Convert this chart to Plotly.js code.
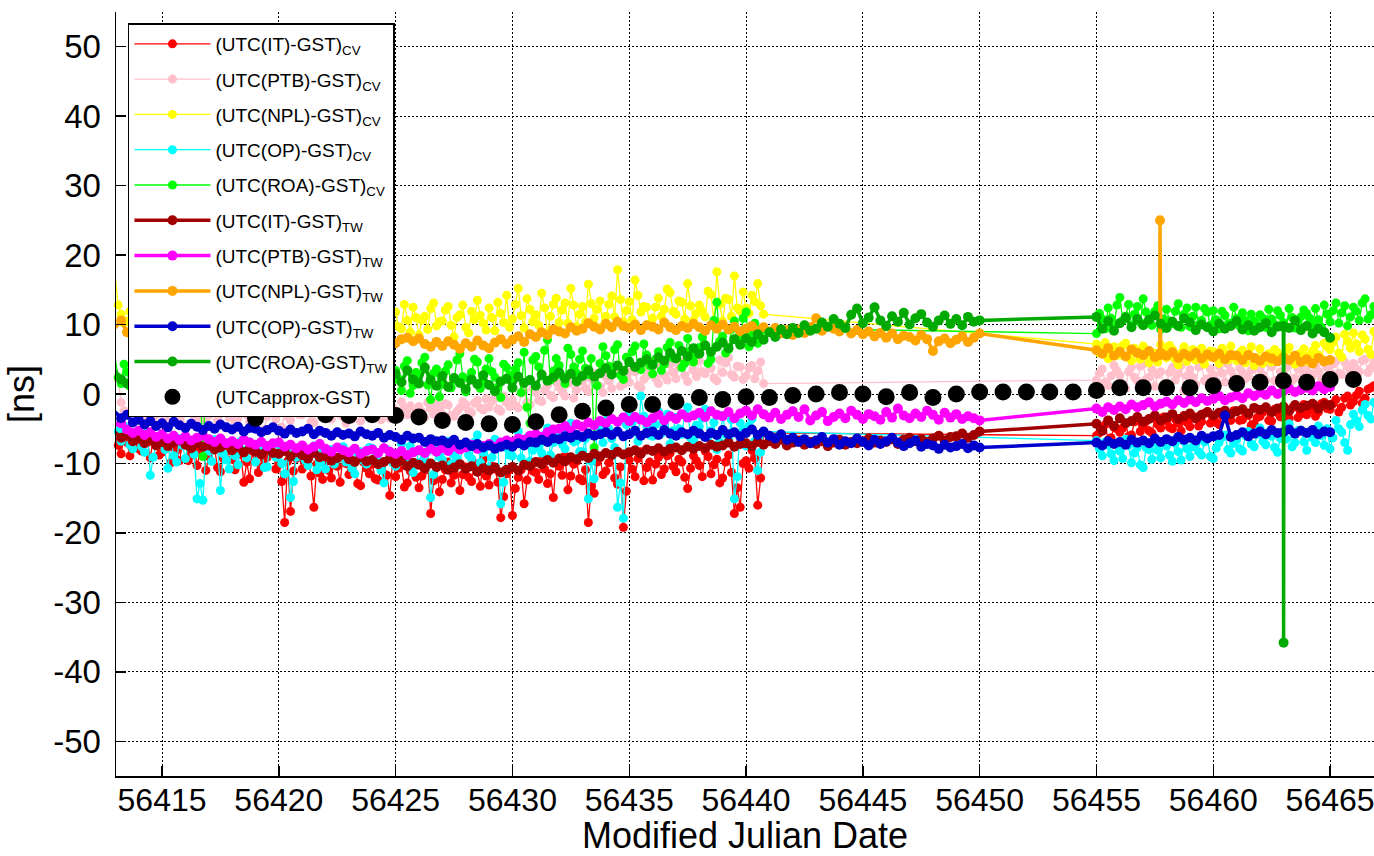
<!DOCTYPE html>
<html><head><meta charset="utf-8">
<script src="https://cdn.plot.ly/plotly-3.0.1.min.js"></script>
<style>html,body{margin:0;padding:0;background:#fff;overflow:hidden}#chart{width:1374px;height:856px}</style>
</head><body><div id="chart"></div><script>
// ---- sampling (MJD) ----
const STEP = 0.25;
const cvSeg1Start = 56413.0;   // "a" samples to 56440.75
const cvSeg1bStart = 56413.125; // "b" samples to 56440.625
const cvSeg2Start = 56455.0;   // "a" samples to 56467.0
const cvSeg2bStart = 56455.125; // "b" samples to 56466.875
const twSeg1Start = 56413.0;   // to 56450.0
const twSeg2Start = 56455.0;   // to 56465.0
const approxStart = 56413;     // daily

// ---- CV series ----
const cvIT1 = [
-6.2,-8.6,-7.0,-5.8, -7.9,-6.5,-9.2,-7.3, -8.4,-6.9,-7.7,-9.6, -7.1,-8.8,-10.3,-7.5,
-9.0,-7.8,-11.2,-8.3, -9.4,-8.1,-12.7,-12.2, -8.6,-10.5,-9.1,-7.9, -10.2,-18.5,-16.9,-9.3,
-10.8,-9.0,-16.3,-11.4, -9.7,-12.1,-10.4,-8.8, -11.6,-9.5,-13.2,-10.7, -10.1,-12.4,-9.8,-14.6,
-11.9,-10.3,-12.8,-9.9, -13.5,-11.0,-17.2,-10.6, -12.3,-9.8,-11.7,-13.9, -10.5,-12.6,-11.2,-9.4,
-13.1,-10.8,-17.8,-11.5, -17.5,-12.0,-15.8,-10.2, -11.3,-9.6,-12.9,-14.9, -10.4,-8.9,-11.8,-9.7,
-12.5,-18.5,-14.3,-9.2, -11.1,-8.7,-13.0,-19.2, -9.5,-11.9,-8.3,-10.6, -12.4,-9.1,-10.8,-8.5,
-11.2,-9.8,-13.6,-8.9, -10.3,-8.2,-11.5,-9.4, -12.1,-8.8,-17.2,-16.3, -9.6,-8.1,-16.0,-5.6];
const cvIT1b = [
-7.4,-6.1,-8.9,-6.7, -8.2,-7.0,-6.3,-8.8, -7.5,-9.9,-8.1,-7.2, -9.6,-7.9,-8.4,-11.0,
-8.0,-10.6,-9.3,-7.6, -10.9,-8.7,-9.8,-8.2, -11.3,-9.4,-8.3,-10.8, -12.6,-9.7,-11.1,-8.9,
-9.6,-11.8,-10.1,-12.3, -11.0,-9.3,-12.7,-10.0, -10.4,-12.9,-9.8,-11.5, -12.2,-10.6,-11.7,-9.5,
-10.7,-13.4,-11.1,-12.0, -11.8,-9.9,-12.5,-14.1, -10.9,-12.8,-10.2,-11.6, -12.0,-10.0,-13.3,-11.8,
-10.4,-12.7,-14.8,-10.9, -13.6,-10.9,-12.4,-11.1, -12.3,-10.8,-11.5,-9.9, -11.7,-13.8,-10.1,-12.2,
-10.9,-13.3,-9.8,-11.6, -9.9,-12.1,-10.5,-14.0, -10.8,-9.3,-12.5,-9.8, -10.1,-11.6,-8.9,-10.4,
-9.4,-12.0,-10.7,-9.6, -11.9,-9.0,-10.2,-12.8, -9.8,-11.3,-13.5,-10.0, -10.7,-9.3,-12.1];
const cvIT2 = [
-6.0,-5.2,-6.6,-4.8, -5.5,-4.3,-5.9,-3.8, -4.6,-5.3,-3.5,-4.9, -3.9,-5.0,-4.2,-3.1,
-4.7,-3.3,-4.0,-2.6, -3.6,-4.4,-2.9,-3.8, -2.5,-3.7,-3.1,-4.3, -3.2,-2.1,-3.9,-2.7,
-2.4,-3.5,-1.8,-2.9, -3.0,-1.6,-2.6,-1.2, -2.2,-0.8,-1.9,-0.3, -1.1,0.4,-0.6,0.9, 0.6];
const cvIT2b = [
-5.6,-4.4,-6.3,-5.0, -4.9,-6.1,-4.0,-5.4, -3.9,-5.6,-4.4,-3.3, -4.8,-3.6,-5.3,-4.1,
-3.5,-4.6,-2.8,-4.2, -4.1,-3.1,-3.7,-2.4, -3.8,-2.7,-4.5,-3.4, -2.6,-3.8,-2.2,-3.3,
-3.1,-2.0,-3.4,-1.5, -2.3,-3.2,-1.4,-2.1, -1.4,-2.6,-0.6,-1.6, -0.2,-1.3,0.7,1.2];

const cvPTB1 = [
3.8,-1.2,-2.8,-3.4, -2.1,-3.9,-1.6,-3.0, -2.6,-4.2,-1.9,-3.3, -2.4,-1.5,-3.7,-2.9,
-3.1,-2.0,-4.4,-2.5, -1.8,-3.5,-2.7,-4.0, -2.3,-6.9,-3.2,-2.0, -7.5,-2.6,-3.8,-1.7,
-3.0,-2.2,-4.1,-2.8, -1.9,-3.6,-2.5,-3.3, -2.7,-1.4,-3.9,-2.2, -3.2,-2.0,-1.6,-3.5,
-2.4,-1.1,-3.0,-2.6, -1.8,-3.4,-2.1,-1.3, -2.9,-1.6,-3.2,-2.0, -1.5,-2.7,-0.9,-2.3,
-1.9,-0.6,-2.5,-1.2, -0.8,-2.0,0.4,-1.5, 0.2,-1.1,1.3,-0.5, 1.0,-0.3,2.4,0.6,
1.8,0.3,2.9,1.1, 2.5,0.8,3.6,1.4, 1.7,3.2,0.9,2.6, 3.8,1.5,2.7,4.3,
2.2,4.6,1.8,3.4, 4.8,2.9,3.7,1.9, 3.1,5.2,2.4,3.9, 2.6,4.1,3.3,1.5];
const cvPTB1b = [
2.1,-2.4,-3.1,-1.9, -3.3,-2.5,-4.0,-2.2, -3.6,-1.7,-2.9,-4.5, -2.0,-3.2,-2.6,-3.9,
-2.7,-3.8,-1.9,-3.4, -4.2,-2.3,-3.0,-2.1, -3.7,-5.1,-2.4,-3.6, -4.8,-3.3,-2.2,-3.0,
-2.5,-3.9,-1.8,-3.4, -2.9,-1.6,-3.0,-4.2, -3.6,-2.4,-2.9,-1.6, -2.2,-3.7,-2.8,-1.9,
-3.3,-2.0,-1.7,-3.6, -2.6,-1.2,-2.9,-2.2, -1.4,-3.1,-2.5,-1.1, -2.4,-1.3,-2.0,-0.7,
-1.0,-2.2,-0.3,-1.8, -1.7,0.1,-1.2,0.8, -0.9,0.6,-0.2,1.7, 0.3,1.5,-0.6,1.9,
0.8,2.2,1.4,0.2, 1.9,3.0,1.1,2.7, 3.4,1.2,2.1,3.5, 2.3,4.0,2.0,3.1,
3.9,2.7,5.0,2.5, 3.2,4.4,2.3,4.9, 4.5,2.8,4.0,2.1, 3.7,2.2,4.6];
const cvPTB2 = [
2.0,3.6,1.2,4.1, 2.7,0.8,3.9,1.9, 4.3,2.4,1.1,3.2, 1.6,3.8,2.9,0.5,
3.5,1.4,4.2,2.2, 2.8,4.0,1.7,3.3, 1.3,3.1,2.5,4.4, 3.6,2.0,3.9,1.8,
2.9,4.2,2.3,3.5, 4.0,2.6,3.3,4.5, 3.1,4.7,2.8,3.9, 4.4,3.2,5.0,3.7, 4.1];
const cvPTB2b = [
3.0,1.7,2.6,3.4, 1.5,3.2,2.4,4.0, 2.1,3.5,2.8,1.4, 3.1,2.0,4.1,2.6,
2.4,3.9,1.9,3.6, 1.9,3.0,4.3,2.5, 3.7,2.2,3.4,1.6, 2.7,4.5,1.9,3.2,
3.8,1.9,3.6,2.7, 3.0,4.1,2.2,3.8, 4.3,3.0,4.6,3.4, 3.6,4.8,3.1,4.5];

const cvNPL1 = [
16.8,11.5,10.5,12.0, 11.0,10.0,12.5,9.5, 10.8,12.0,9.8,11.2, 10.5,11.8,9.6,10.2,
11.5,10.0,12.2,9.8, 10.6,11.9,10.1,9.4, 11.8,10.3,9.9,12.4, 10.2,9.5,11.6,10.8,
9.7,12.1,10.4,9.2, 11.3,10.1,9.6,12.6, 10.9,9.3,11.7,10.2, 9.8,12.3,10.6,9.5,
11.8,9.4,10.6,12.5, 8.5,11.2,12.3,9.8, 10.5,12.6,8.2,11.4, 9.6,11.9,13.5,10.2,
12.4,9.1,11.6,14.2, 10.8,15.2,9.5,12.2, 11.4,14.5,8.8,12.9, 10.3,13.1,15.2,9.7,
12.6,15.8,10.9,13.4, 11.2,14.1,17.9,10.4, 13.3,16.4,11.8,12.5, 10.9,13.8,12.2,14.6,
11.5,13.2,15.9,10.6, 12.8,11.1,14.3,17.6, 10.5,13.6,17.0,11.9, 12.4,14.2,15.9,11.5];
const cvNPL1b = [
12.8,10.2,11.9,10.7, 9.6,11.7,10.4,12.1, 11.5,9.7,10.9,12.4, 9.9,12.3,11.0,9.3,
10.7,12.8,9.5,11.3, 12.0,9.2,11.4,10.5, 9.6,11.0,12.7,10.3, 11.7,10.4,9.0,12.2,
10.6,9.8,11.9,10.9, 9.4,11.6,10.7,9.9, 12.1,10.5,9.7,11.4, 10.2,11.1,12.4,10.0,
9.7,12.9,8.9,11.0, 10.6,9.3,13.1,10.4, 12.1,9.9,11.0,12.8, 8.8,10.7,11.3,9.2,
11.0,13.2,10.3,9.6, 12.9,11.3,13.7,10.4, 9.9,12.4,11.2,13.8, 12.1,10.2,12.8,11.5,
10.4,13.0,12.2,9.8, 12.9,11.1,13.6,12.0, 10.7,14.2,12.6,10.1, 12.5,11.2,15.1,11.9,
13.4,10.8,12.7,11.6, 11.9,14.8,10.3,12.9, 13.8,11.2,12.4,14.7, 11.6,13.3,12.7];
const cvNPL2 = [
7.2,6.5,5.1,6.8, 5.6,7.3,4.8,6.2, 6.9,4.5,5.9,7.1, 5.2,6.4,4.2,6.8,
5.7,4.9,6.6,5.3, 6.1,4.4,5.8,6.9, 4.8,6.3,5.5,4.1, 6.5,5.2,4.6,6.0,
5.4,6.7,4.3,5.9, 4.7,6.2,5.6,7.3, 6.4,8.2,5.3,7.6, 8.8,6.1,7.9,5.7, 8.4];
const cvNPL2b = [
5.9,7.4,5.5,6.1, 7.0,5.3,6.6,5.0, 6.3,5.7,4.6,6.5, 7.0,5.0,5.9,4.7,
6.4,5.5,4.3,6.2, 5.1,6.6,4.9,5.6, 5.9,4.5,6.8,5.2, 4.4,5.8,6.4,5.0,
6.2,4.8,5.7,6.5, 5.5,7.0,5.1,6.8, 7.4,5.9,8.6,6.6, 7.2,8.5,6.4,9.0];

const cvOP1 = [
-3.5,-6.8,-5.2,-7.9, -6.1,-8.4,-11.7,-7.2, -5.8,-10.7,-8.9,-6.4, -9.3,-7.1,-15.1,-15.3,
-8.2,-6.6,-13.9,-9.5, -7.4,-10.2,-8.1,-6.9, -9.8,-7.7,-10.5,-8.6, -7.3,-11.5,-14.9,-9.1,
-8.7,-10.3,-7.5,-9.9, -10.8,-8.0,-9.4,-7.6, -9.2,-11.5,-8.3,-10.1, -7.8,-9.6,-12.8,-8.5,
-10.4,-7.2,-9.0,-11.3, -8.1,-10.7,-14.9,-7.6, -9.5,-6.8,-8.7,-10.2, -7.1,-9.3,-5.9,-8.4,
-10.6,-6.5,-15.8,-7.8, -8.9,-5.4,-7.3,-9.7, -6.2,-8.5,-4.9,-7.0, -5.6,-7.9,-4.2,-6.7,
-8.3,-15.1,-12.2,-5.1, -3.8,-6.4,-16.3,-17.9, -2.9,-5.5,-0.3,-4.6, -6.1,-2.5,-4.0,-7.2,
-3.4,-5.8,-1.9,-6.6, -4.7,-2.2,-5.3,-8.0, -3.1,-6.5,-15.1,-4.2, -7.5,-3.6,-11.0,-5.4];
const cvOP1b = [
-5.4,-4.6,-7.3,-6.5, -7.6,-5.5,-9.1,-6.7, -8.0,-6.9,-9.8,-7.4, -6.8,-8.7,-12.9,-8.0,
-9.7,-7.3,-8.6,-10.8, -8.9,-6.8,-9.2,-7.6, -8.3,-10.6,-7.4,-9.1, -10.0,-8.4,-12.6,-7.9,
-9.5,-7.9,-10.9,-8.3, -8.6,-10.1,-7.8,-9.8, -10.7,-8.5,-9.6,-7.7, -9.1,-11.0,-8.0,-9.9,
-8.6,-9.8,-7.5,-10.0, -9.7,-8.2,-11.6,-9.0, -7.9,-10.1,-9.3,-7.4, -8.8,-6.9,-9.9,-7.6,
-9.1,-7.4,-12.7,-8.8, -7.0,-9.2,-6.3,-8.1, -7.6,-5.9,-8.8,-6.0, -7.2,-5.1,-6.9,-8.3,
-6.4,-9.7,-4.6,-7.0, -5.0,-7.7,-12.8,-4.4, -4.1,-6.8,-3.2,-5.9, -4.4,-5.7,-2.9,-5.3,
-5.0,-3.0,-6.3,-4.5, -3.5,-6.2,-4.1,-6.9, -5.8,-3.7,-11.9,-5.1, -4.6,-6.8,-8.4];
const cvOP2 = [
-6.7,-8.9,-7.4,-9.6, -8.2,-6.5,-9.9,-7.7, -10.6,-8.0,-6.9,-9.2, -7.5,-9.7,-8.3,-6.8,
-9.0,-7.2,-8.8,-6.4, -9.3,-7.0,-5.9,-8.5, -6.6,-8.2,-5.4,-7.6, -4.9,-7.3,-6.1,-8.4,
-5.7,-4.3,-7.0,-5.2, -8.1,-6.3,-4.6,-7.4, -7.9,-3.8,-5.5,-8.1, -2.9,-4.7,-1.5,-3.6, -0.7];
const cvOP2b = [
-7.9,-6.9,-8.6,-7.1, -9.3,-7.4,-8.5,-10.2, -7.7,-9.4,-8.1,-7.0, -8.8,-7.1,-9.5,-7.9,
-7.6,-8.3,-6.9,-9.0, -7.8,-6.2,-8.0,-7.1, -7.9,-6.0,-7.2,-5.8, -6.8,-5.5,-7.7,-6.4,
-6.5,-7.6,-5.3,-6.9, -5.4,-7.0,-6.0,-5.0, -6.3,-5.0,-7.0,-4.4, -3.8,-2.3,-3.1,-1.2];

const cvROA1 = [
5.0,1.5,3.2,0.8, 2.5,4.1,0.3,3.6, 1.8,4.8,2.2,0.5, 3.3,1.2,4.4,-9.0,
2.6,0.9,3.8,1.7, 4.2,2.1,0.4,3.5, 1.3,3.9,2.7,0.6, 3.1,1.6,4.5,2.3,
0.8,3.4,1.9,4.0, 2.8,0.2,3.6,1.4, 4.3,2.0,0.7,3.2, 1.1,3.7,2.4,5.2,
3.4,0.5,4.8,1.2, 2.7,5.3,-0.8,3.6, 1.4,4.2,2.0,5.8, 0.3,3.1,4.6,1.7,
5.1,2.4,-0.5,3.8, 1.9,4.5,6.0,-4.2, 5.4,2.6,7.8,3.3, 4.1,1.5,5.7,3.0,
6.2,2.8,-7.7,4.4, 5.5,3.2,7.1,2.1, 4.8,6.9,3.5,5.6, 2.9,6.1,4.3,7.4,
5.2,3.8,8.0,4.6, 6.7,9.1,5.0,13.2, 8.3,6.4,10.5,7.2, 11.8,8.6,7.3,9.5];
const cvROA1b = [
2.4,4.3,1.1,2.9, 3.8,0.9,2.7,4.5, 3.0,1.4,3.9,2.6, 0.7,3.5,2.0,1.8,
4.1,2.3,1.0,3.3, 1.6,3.8,2.9,0.9, 2.4,4.4,1.2,3.0, 1.9,0.5,3.4,2.6,
4.2,2.5,0.6,3.7, 1.8,3.2,4.1,0.9, 2.6,1.4,3.9,2.1, 3.5,0.8,4.6,1.9,
2.2,4.0,0.1,3.1, 4.5,1.3,3.0,-0.4, 3.3,0.9,4.9,2.5, 2.2,5.0,0.8,3.6,
3.2,1.0,4.3,2.7, 3.6,0.2,-1.9,4.9, 3.9,6.3,2.0,5.1, 2.6,6.6,3.9,5.0,
3.7,5.1,1.2,6.8, 4.0,6.4,2.7,5.3, 6.1,3.9,7.2,4.1, 5.0,3.4,6.7,5.2,
7.0,4.4,6.2,5.7, 8.2,4.4,10.6,7.6, 5.9,9.3,8.1,10.9, 6.8,10.2,8.9];
const cvROA2 = [
8.7,10.8,12.4,9.6, 13.9,11.2,9.8,12.6, 13.7,10.4,11.9,9.3, 12.2,10.1,13.0,11.5,
9.7,12.5,10.6,11.8, 12.0,9.4,11.3,10.2, 10.9,11.7,9.1,10.5, 11.4,9.6,10.8,12.0,
10.3,12.3,9.5,11.1, 11.6,9.9,10.7,12.8, 10.4,13.1,11.7,9.8, 12.5,10.6,13.7,11.4, 12.9];
const cvROA2b = [
11.6,9.4,10.9,12.8, 10.6,12.9,11.5,10.3, 11.8,9.9,12.7,10.8, 10.5,11.9,9.6,12.4,
11.2,10.0,12.3,9.9, 10.7,11.9,10.1,12.5, 9.8,10.6,11.5,9.4, 10.9,12.2,10.0,11.3,
9.7,11.0,10.4,12.1, 10.9,12.3,9.6,11.5, 12.0,10.2,12.7,11.1, 11.9,13.1,10.8,12.6];

// ---- TW series ----
const twIT1 = [
-5.5,-6.3,-5.9,-6.8, -6.4,-7.1,-6.6,-7.4, -6.9,-7.5,-7.0,-6.7, -7.3,-7.8,-7.1,-7.6,
-7.4,-8.0,-7.7,-7.2, -8.1,-7.6,-8.4,-7.9, -8.3,-8.7,-8.0,-8.5, -8.6,-8.2,-9.0,-8.4,
-8.8,-9.3,-8.5,-9.1, -9.0,-9.6,-9.2,-8.7, -9.4,-9.8,-9.1,-9.7, -9.5,-10.1,-9.8,-9.3,
-10.0,-9.6,-10.4,-9.9, -10.2,-10.7,-10.0,-10.5, -10.3,-10.9,-10.6,-10.1, -10.8,-10.4,-11.2,-10.7,
-11.0,-10.6,-11.3,-10.9, -10.5,-11.0,-10.2,-10.4, -9.8,-10.1,-9.5,-9.9, -9.3,-9.7,-9.1,-9.4,
-8.9,-9.2,-8.6,-9.0, -8.5,-8.8,-8.3,-8.7, -8.4,-8.1,-8.6,-8.0, -8.2,-7.8,-8.3,-7.9,
-7.7,-8.1,-7.6,-7.9, -7.5,-7.8,-7.3,-7.6, -7.4,-7.0,-7.6,-7.2, -7.1,-7.5,-6.9,-7.3,
-6.8,-7.2,-6.6,-7.4, -7.0,-6.7,-7.3,-6.9, -7.2,-6.8,-7.5,-7.0, -6.6,-7.3,-6.9,-7.1,
-6.8,-6.4,-7.0,-6.7, -6.9,-6.5,-7.2,-6.6, -6.3,-6.8,-6.5,-6.9, -6.4,-6.0,-6.7,-6.2,
-6.1,-5.7,-6.3,-5.9, -5.4];
const twIT2 = [
-4.3,-5.3,-3.8,-4.6, -3.5,-4.2,-3.9,-3.3, -4.0,-3.6,-3.1,-3.8, -3.4,-2.9,-3.6,-3.2,
-2.8,-3.5,-3.0,-2.6, -3.1,-2.7,-2.4,-2.9, -2.5,-2.2,-2.8,-2.0, -2.3,-1.9,-2.6,-2.1,
-1.8,-2.4,-1.6,-2.0, -1.7,-1.4,-2.1,-1.5, -1.6];

const twPTB1 = [
-4.5,-4.2,-5.1,-5.6, -5.3,-5.9,-5.5,-6.2, -5.8,-6.4,-6.0,-6.6, -6.1,-6.7,-6.3,-6.0,
-6.5,-6.9,-6.4,-7.1, -6.8,-7.2,-6.6,-7.0, -7.3,-6.9,-7.5,-7.1, -7.0,-7.6,-7.3,-7.8,
-7.4,-8.0,-7.6,-7.2, -7.9,-8.3,-7.7,-8.1, -8.4,-7.9,-8.6,-8.2, -8.0,-8.5,-7.8,-8.3,
-8.6,-8.2,-8.8,-8.4, -8.1,-8.5,-7.9,-8.3, -7.8,-8.2,-7.6,-8.0, -7.7,-7.3,-7.9,-7.5,
-7.2,-7.6,-7.0,-6.7, -6.9,-6.4,-6.6,-6.0, -5.8,-6.2,-5.5,-5.1, -5.0,-4.6,-5.3,-4.4,
-4.7,-4.1,-4.5,-3.9, -4.2,-3.6,-4.0,-3.4, -3.9,-3.3,-3.7,-4.1, -3.5,-3.0,-3.8,-3.2,
-3.6,-2.9,-3.4,-3.1, -2.7,-3.3,-2.5,-3.0, -3.2,-2.6,-3.5,-2.8, -2.4,-3.1,-2.2,-2.9,
-3.4,-2.7,-3.6,-3.0, -2.5,-3.3,-2.2,-3.8, -3.1,-2.6,-3.9,-3.3, -2.8,-3.5,-2.4,-3.0,
-3.6,-2.9,-3.2,-3.7, -2.6,-3.4,-2.1,-3.1, -3.5,-2.8,-3.3,-2.4, -3.0,-3.7,-2.7,-3.4,
-2.9,-3.6,-3.2,-3.5, -3.8];
const twPTB2 = [
-2.1,-2.6,-1.9,-2.3, -1.8,-2.2,-1.5,-1.9, -1.6,-1.2,-1.8,-1.4, -1.1,-1.5,-0.9,-1.3,
-0.8,-1.2,-0.6,-1.0, -0.7,-0.3,-0.9,-0.5, -0.2,-0.6,0.1,-0.3, 0.2,-0.1,0.5,0.0,
0.4,0.8,0.3,0.6, 0.9,0.5,1.1,0.7, 1.0];

const twNPL1 = [
9.5,10.6,8.9,8.2, 8.7,9.2,8.1,8.8, 9.0,8.4,8.9,8.2, 8.6,9.1,8.0,8.5,
8.8,8.2,8.7,7.9, 8.3,8.9,8.1,8.6, 7.8,8.4,7.6,8.2, 8.0,7.5,8.3,7.7,
7.9,8.4,7.3,7.8, 7.5,8.1,7.6,7.2, 7.8,7.4,8.0,7.1, 7.6,7.2,7.9,7.4,
7.3,7.9,8.1,7.6, 8.0,7.2,6.8,7.5, 6.9,7.6,7.1,6.5, 7.3,6.8,7.7,7.0,
6.6,7.4,7.9,7.2, 7.8,8.3,7.5,8.6, 8.2,8.9,8.5,9.3, 9.0,8.7,9.6,9.1,
9.4,10.2,9.7,9.3, 10.1,9.6,10.4,9.8, 9.5,10.0,9.2,9.9, 9.7,9.3,10.3,9.6,
9.2,9.8,9.5,10.1, 9.6,9.1,9.9,9.4, 10.0,9.3,9.7,9.0, 9.4,9.8,9.1,9.6,
9.0,9.5,8.7,9.2, 8.5,9.3,8.8,9.6, 10.9,9.1,9.7,9.4, 9.0,9.6,8.7,9.2,
8.6,9.0,8.3,8.8, 8.1,8.7,7.9,8.4, 8.2,7.7,8.5,7.9, 6.2,7.6,8.0,7.3,
7.8,8.3,7.5,8.1, 8.7];
const twNPL2 = [
6.3,5.8,6.6,5.5, 6.1,5.4,6.4,5.9, 5.6,6.2,5.3,5.9, 5.5,6.0,5.2,5.8,
5.4,5.9,5.1,5.7, 5.3,5.8,5.0,5.6, 5.5,4.9,5.6,5.2, 4.8,5.4,5.1,4.7,
5.3,4.9,5.5,4.6, 5.0,4.4,5.2,4.7, 4.9];
const twNPLSpikeX = [56457.71, 56457.72, 56457.73];
const twNPLSpikeY = [5.6, 25.0, 5.9];

const twOP1 = [
-2.6,-3.5,-3.0,-4.1, -3.7,-4.4,-3.9,-4.6, -4.2,-4.8,-4.0,-4.5, -4.9,-4.3,-4.7,-5.2,
-4.6,-5.0,-4.4,-4.8, -5.1,-4.7,-5.4,-4.9, -5.0,-5.5,-5.2,-4.8, -5.3,-5.7,-5.1,-5.6,
-5.4,-5.0,-5.8,-5.3, -5.6,-6.0,-5.5,-5.9, -5.7,-6.1,-5.4,-5.8, -6.0,-5.6,-6.3,-5.9,
-6.2,-6.6,-6.0,-6.4, -6.3,-6.9,-6.5,-6.8, -6.7,-7.1,-6.6,-7.3, -7.0,-7.5,-7.2,-7.7,
-7.4,-7.9,-7.6,-7.3, -7.6,-7.1,-7.4,-6.9, -7.0,-6.6,-6.9,-6.4, -6.5,-6.1,-6.3,-5.9,
-6.2,-5.7,-6.0,-5.8, -5.5,-5.9,-5.4,-6.1, -5.8,-5.3,-6.0,-5.6, -5.4,-5.9,-5.2,-5.7,
-6.0,-5.5,-5.8,-5.3, -5.7,-6.2,-5.6,-5.9, -5.2,-5.8,-5.5,-6.1, -5.6,-5.1,-5.9,-5.4,
-6.0,-6.4,-5.8,-6.6, -6.3,-6.9,-6.5,-7.1, -6.7,-6.2,-7.0,-6.5, -7.3,-6.8,-7.1,-6.4,
-6.9,-7.4,-6.6,-7.2, -6.8,-6.3,-7.0,-7.5, -7.1,-6.7,-7.6,-7.2, -7.4,-7.9,-7.3,-7.7,
-7.5,-7.2,-7.8,-7.4, -7.7];
const twOP2 = [
-7.0,-7.4,-6.8,-7.2, -6.9,-7.3,-6.6,-7.0, -6.7,-7.1,-6.4,-6.9, -6.5,-6.8,-6.2,-6.6,
-6.3,-6.7,-6.0,-6.4, -6.1,-5.9,-3.1,-6.2, -5.9,-5.5,-6.1,-5.7, -5.4,-5.8,-5.2,-5.6,
-5.5,-5.1,-5.7,-5.3, -5.6,-5.2,-5.8,-5.4, -5.5];

const twROA1 = [
3.4,2.1,1.5,2.8, 1.9,2.6,1.2,2.3, 1.6,2.9,2.0,1.1, 2.5,1.7,2.2,1.4,
2.0,1.3,2.7,1.8, 1.5,2.4,1.9,2.6, 1.2,2.1,1.6,2.8, 2.2,1.4,2.5,1.8,
1.7,2.9,2.1,1.3, 2.4,1.8,2.6,1.5, 2.0,2.7,1.6,2.3, 1.8,2.5,3.2,2.2,
2.9,1.7,3.4,2.1, 1.5,3.8,2.0,1.2, 2.6,1.0,2.3,1.6, 0.7,2.1,1.4,2.7,
1.3,0.4,1.8,2.2, 0.9,2.5,1.6,2.0, 1.2,2.8,1.9,2.4, 3.1,2.2,2.9,1.8,
2.6,3.4,2.5,3.0, 3.7,2.8,4.1,3.3, 4.6,3.9,4.5,5.0, 4.2,5.3,4.8,5.9,
5.1,6.2,5.4,6.6, 5.8,7.0,6.1,6.8, 7.4,6.6,7.9,7.1, 8.0,7.5,8.6,7.8,
8.9,8.2,9.3,8.6, 9.5,8.8,9.9,9.1, 9.4,10.3,9.7,10.8, 10.1,9.5,11.4,12.3,
10.2,11.0,12.5,10.6, 9.8,11.2,10.4,11.7, 10.0,10.9,11.5,10.3, 9.7,10.6,11.3,10.1,
10.8,9.9,11.1,10.4, 10.6];
const twROA2 = [
11.1,9.4,10.5,9.1, 10.2,11.0,9.6,10.8, 9.9,10.7,11.3,10.1, 9.5,10.4,9.8,10.9,
10.3,9.2,10.0,9.6, 9.0,10.1,9.4,9.8, 10.5,9.3,9.9,9.1, 9.6,10.2,8.9,9.7,
9.8,9.5,10.6,9.2, 9.8,8.7,9.4,8.9, 8.1];
const twROASpikeX = [56463.01, 56463.02];
const twROASpikeY = [-35.8, 9.6];

// ---- UTCapprox-GST (daily) ----
const approx = [
0.2,-0.3,-0.8,-1.2,-1.5,-1.9,-3.5,-1.0,-1.0,-3.0,
-3.1,-3.0,-3.1,-3.3,-3.8,-4.1,-4.3,-4.4,-4.0,-3.0,
-2.5,-2.0,-1.5,-1.5,-1.1,-0.5,-0.8,-0.4,-0.5,-0.2,
0.0,0.2,0.0,-0.4,0.2,-0.5,0.0,0.3,0.3,0.3,
0.3,0.3,0.5,0.9,0.9,0.9,0.9,1.2,1.5,1.7,
1.9,1.7,2.1,2.1,2.2];

const xTicks = [56415,56420,56425,56430,56435,56440,56445,56450,56455,56460,56465];
const yTicks = [-50,-40,-30,-20,-10,0,10,20,30,40,50];

// ---- build helpers ----
function build(segs, extraX, extraY) {
  const pts = [];
  segs.forEach(([start, vals]) => vals.forEach((v, i) => pts.push([start + i * STEP, v])));
  if (extraX) extraX.forEach((x, i) => pts.push([x, extraY[i]]));
  pts.sort((a, b) => a[0] - b[0]);
  return {x: pts.map(p => p[0]), y: pts.map(p => p[1])};
}
function cv(a1, b1, a2, b2) {
  return build([[cvSeg1Start,a1],[cvSeg1bStart,b1],[cvSeg2Start,a2],[cvSeg2bStart,b2]]);
}

const defs = [
  {name:'(UTC(IT)-GST)<sub>CV</sub>',  color:'#FF0000', w:1.3, ms:9, d:cv(cvIT1,cvIT1b,cvIT2,cvIT2b)},
  {name:'(UTC(PTB)-GST)<sub>CV</sub>', color:'#FFC0CB', w:1.3, ms:9, d:cv(cvPTB1,cvPTB1b,cvPTB2,cvPTB2b)},
  {name:'(UTC(NPL)-GST)<sub>CV</sub>', color:'#FFFF00', w:1.3, ms:9, d:cv(cvNPL1,cvNPL1b,cvNPL2,cvNPL2b)},
  {name:'(UTC(OP)-GST)<sub>CV</sub>',  color:'#00FFFF', w:1.3, ms:9, d:cv(cvOP1,cvOP1b,cvOP2,cvOP2b)},
  {name:'(UTC(ROA)-GST)<sub>CV</sub>', color:'#00FF00', w:1.3, ms:9, d:cv(cvROA1,cvROA1b,cvROA2,cvROA2b)},
  {name:'(UTC(IT)-GST)<sub>TW</sub>',  color:'#A00000', w:3.5, ms:10, d:build([[twSeg1Start,twIT1],[twSeg2Start,twIT2]])},
  {name:'(UTC(PTB)-GST)<sub>TW</sub>', color:'#FF00FF', w:3.5, ms:10, d:build([[twSeg1Start,twPTB1],[twSeg2Start,twPTB2]])},
  {name:'(UTC(NPL)-GST)<sub>TW</sub>', color:'#FFA500', w:3.5, ms:10, d:build([[twSeg1Start,twNPL1],[twSeg2Start,twNPL2]], twNPLSpikeX, twNPLSpikeY)},
  {name:'(UTC(OP)-GST)<sub>TW</sub>',  color:'#0000CC', w:3.5, ms:10, d:build([[twSeg1Start,twOP1],[twSeg2Start,twOP2]])},
  {name:'(UTC(ROA)-GST)<sub>TW</sub>', color:'#00AA00', w:3.5, ms:10, d:build([[twSeg1Start,twROA1],[twSeg2Start,twROA2]], twROASpikeX, twROASpikeY)}
];

const traces = defs.map((s, k) => ({
  type:'scatter', mode:'lines+markers', name:s.name, x:s.d.x, y:s.d.y,
  line:{color:s.color, width:s.w}, marker:{color:s.color, size:s.ms},
  cliponaxis:false, legendgroup:'g'+k
}));
traces.push({
  type:'scatter', mode:'markers', name:'(UTCapprox-GST)',
  x: approx.map((v, i) => approxStart + i), y: approx,
  marker:{color:'#000', size:17}, cliponaxis:false, legendgroup:'g10'
});

const axisCommon = {
  ticks:'inside', ticklen:10, tickwidth:1.5, tickcolor:'#000',
  showline:true, linecolor:'#000', linewidth:1.5, mirror:false,
  showgrid:true, gridcolor:'#000', gridwidth:1, griddash:'2px,2px',
  zeroline:false, automargin:false, ticklabeloverflow:'allow'
};

const layout = {
  width:1374, height:856,
  margin:{l:116, r:0, t:12, b:80, pad:0},
  paper_bgcolor:'#fff', plot_bgcolor:'#fff',
  font:{family:'"Liberation Sans", Arial, sans-serif', color:'#000'},
  showlegend:true,
  legend:{x:0.0095, y:0.985, xanchor:'left', yanchor:'top', bgcolor:'#fff',
          bordercolor:'#000', borderwidth:1.5, font:{size:19, color:'#000'},
          itemwidth:76, tracegroupgap:7.6, traceorder:'grouped'},
  xaxis:Object.assign({}, axisCommon, {
    range:[56413.03, 56466.88], tickmode:'array', tickvals:xTicks, ticktext:xTicks.map(String),
    tickfont:{size:32, color:'#000'}, ticklabelstandoff:-5,
    title:{text:'Modified Julian Date', font:{size:36}, standoff:22}
  }),
  yaxis:Object.assign({}, axisCommon, {
    range:[-55, 55], tickmode:'array', tickvals:yTicks, ticktext:yTicks.map(String),
    tickfont:{size:33, color:'#000'}, ticklabelstandoff:7,
    title:{text:'[ns]', font:{size:36}, standoff:7}
  }),
  hovermode:false
};

Plotly.newPlot('chart', traces, layout, {staticPlot:true, displayModeBar:false});
</script></body></html>
